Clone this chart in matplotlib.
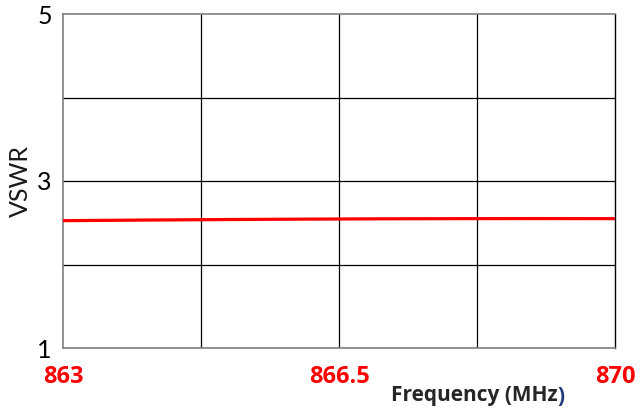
import matplotlib
matplotlib.use("Agg")
import matplotlib.pyplot as plt

plt.rcParams['font.family'] = ['Open Sans', 'DejaVu Sans']

# frequency (MHz) and VSWR
freq = [863, 864, 865, 866, 866.5, 867, 868, 869, 870]
vswr = [2.525, 2.532, 2.538, 2.543, 2.545, 2.547, 2.549, 2.550, 2.549]

x_ticks = [863, 866.5, 870]
x_grid = [864.75, 866.5, 868.25]
y_ticks = [1, 3, 5]
y_grid = [2, 3, 4]

fig = plt.figure(figsize=(6.43, 4.12), dpi=100)
ax = fig.add_axes([63 / 643, 1 - 348 / 412, (615 - 63) / 643, (348 - 14) / 412])

for g in x_grid:
    ax.axvline(g, color='black', lw=0.9, zorder=1)
for g in y_grid:
    ax.axhline(g, color='black', lw=0.9, zorder=1)

ax.plot(freq, vswr, color='#ff0000', lw=2.3, zorder=3)

ax.set_xlim(863, 870)
ax.set_ylim(1, 5)
ax.set_xticks(x_ticks)
ax.set_xticklabels(['863', '866.5', '870'], color='#ff0000', fontweight='bold', fontsize=17)
ax.set_yticks(y_ticks)
ax.set_yticklabels(['1', '3', '5'], fontsize=18, family=['Lato', 'DejaVu Sans'])
ax.tick_params(axis='x', length=0, pad=12)
ax.tick_params(axis='y', length=0, pad=8)

for side in ['left', 'bottom', 'top']:
    ax.spines[side].set_color('#7f7f7f')
    ax.spines[side].set_linewidth(1.2)
ax.spines['right'].set_color('black')
ax.spines['right'].set_linewidth(1.0)

ax.set_ylabel('VSWR', fontsize=18, labelpad=4, color='#1a1a1a', family=['Lato', 'DejaVu Sans'])

t = fig.text(391 / 643, 1 - 396 / 412, 'Frequency (MHz', fontsize=15, fontweight='bold',
             color='#262626', va='center', ha='left')
ax.annotate(')', xy=(1, 0), xycoords=t, fontsize=15, fontweight='bold',
            color='#1f3a7a', va='bottom', ha='left')

fig.savefig('out.png', dpi=100)
